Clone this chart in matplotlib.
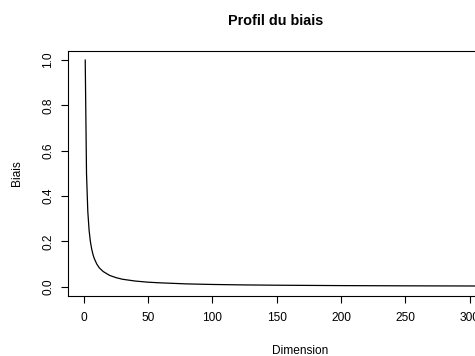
import matplotlib
matplotlib.use("Agg")
import matplotlib.pyplot as plt

plt.rcParams['font.family'] = ['Liberation Sans', 'DejaVu Sans']

# valeurs
dimension = [1, 2, 3, 4, 5, 6, 7, 8, 10, 12, 15, 20, 25, 30, 40, 50, 60, 80,
             100, 125, 150, 200, 250, 300, 335]
biais = [1.0, 0.5, 0.333, 0.25, 0.2, 0.167, 0.143, 0.125, 0.1, 0.083, 0.067,
         0.05, 0.04, 0.033, 0.025, 0.02, 0.017, 0.0125, 0.01, 0.008, 0.0067,
         0.005, 0.004, 0.0033, 0.003]

fig = plt.figure(figsize=(4.75, 3.56), dpi=100)
ax = fig.add_axes([68 / 475, 60.2 / 356, (533 - 68) / 475, (295.8 - 51) / 356])

ax.plot(dimension, biais, color='black', lw=0.9)
ax.set_xlim(-12.4, 349.4)
ax.set_ylim(-0.04, 1.04)
ax.set_xticks([0, 50, 100, 150, 200, 250, 300])
ax.set_yticks([0.0, 0.2, 0.4, 0.6, 0.8, 1.0])
ax.set_yticklabels(['0.0', '0.2', '0.4', '0.6', '0.8', '1.0'],
                   rotation=90, va='center')
ax.tick_params(labelsize=8.6, length=5, width=0.8, pad=7)
ax.tick_params(axis='y', pad=5)
for s in ax.spines.values():
    s.set_linewidth(0.8)

ax.set_xlabel('Dimension', fontsize=8.6, labelpad=15)
ax.set_ylabel('Biais', fontsize=8.6, labelpad=14)
fig.text(276 / 475, 1 - 21 / 356, 'Profil du biais',
         ha='center', va='center', fontsize=10.4, fontweight='bold')

fig.savefig('out.png', dpi=100)
